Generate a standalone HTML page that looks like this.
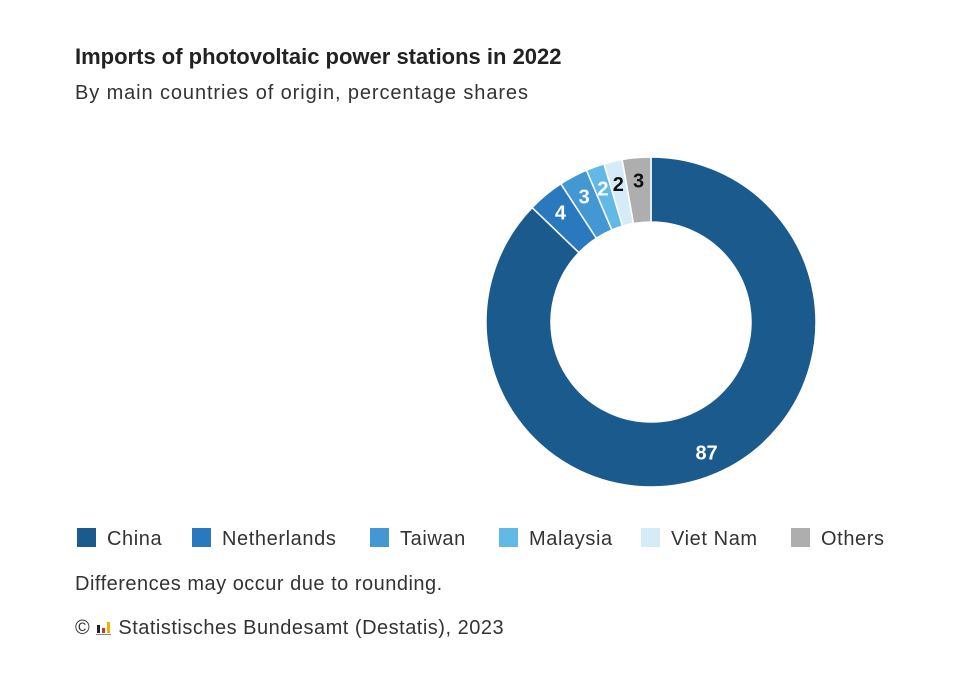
<!DOCTYPE html>
<html><head><meta charset="utf-8"><style>
body{margin:0;background:#fff;font-family:"Liberation Sans",sans-serif;color:#222;}
#wrap{position:relative;width:960px;height:679px;overflow:hidden;}
.t{position:absolute;white-space:nowrap;}
</style></head><body>
<div id="wrap">
<div class="t" style="left:75px;top:44px;font-size:22px;font-weight:bold;color:#222;">Imports of photovoltaic power stations in 2022</div>
<div class="t" style="left:75px;top:82px;font-size:20px;letter-spacing:0.9px;color:#333;">By main countries of origin, percentage shares</div>
<svg id="chart" width="960" height="679" style="position:absolute;left:0;top:0"></svg>
<div class="t" style="left:75px;top:573px;font-size:20px;letter-spacing:0.5px;color:#333;">Differences may occur due to rounding.</div>
<div class="t" style="left:75px;top:617px;font-size:20px;letter-spacing:0.5px;color:#333;">© <span style="display:inline-block;width:16px;height:14px;position:relative;vertical-align:-1px"><span style="position:absolute;left:1px;bottom:2px;width:3px;height:8px;background:#222"></span><span style="position:absolute;left:6px;bottom:2px;width:3px;height:5px;background:#c33"></span><span style="position:absolute;left:11px;bottom:2px;width:3px;height:11px;background:#e8b400"></span><span style="position:absolute;left:0;bottom:0;width:15px;height:1px;background:#888"></span></span> Statistisches Bundesamt (Destatis), 2023</div>
</div>
<script>
const categories=["China","Netherlands","Taiwan","Malaysia","Viet Nam","Others"];
const values=[87.2,3.6,2.8,1.8,1.8,2.8];
const labels=["87","4","3","2","2","3"];
const colors=["#1b5a8c","#2a78bd","#4398d3","#62b9e6","#d5ecf8","#aeaeae"];
const labelColors=["#fff","#fff","#fff","#fff","#111","#111"];
const NS="http://www.w3.org/2000/svg";
const svg=document.getElementById("chart");
const cx=651,cy=322,R=165,r=100,LR=142;
const total=values.reduce((a,b)=>a+b,0);
function pt(rad,a){return [cx+rad*Math.sin(a),cy-rad*Math.cos(a)];}
let acc=0;
values.forEach((v,i)=>{
 const a0=acc/total*2*Math.PI; acc+=v; const a1=acc/total*2*Math.PI;
 const large=(a1-a0)>Math.PI?1:0;
 const p1=pt(R,a0),p2=pt(R,a1),p3=pt(r,a1),p4=pt(r,a0);
 const path=document.createElementNS(NS,"path");
 path.setAttribute("d",`M${p1} A${R},${R} 0 ${large} 1 ${p2} L${p3} A${r},${r} 0 ${large} 0 ${p4} Z`);
 path.setAttribute("fill",colors[i]);path.setAttribute("stroke","#fff");path.setAttribute("stroke-width","1.5");
 
 
 svg.appendChild(path);
 const am=(a0+a1)/2,lp=pt(LR,am);
 const t=document.createElementNS(NS,"text");
 t.setAttribute("x",lp[0]);t.setAttribute("y",lp[1]+7);t.setAttribute("text-anchor","middle");
 t.setAttribute("font-size","20");t.setAttribute("font-weight","bold");t.setAttribute("fill",labelColors[i]);
 t.setAttribute("font-family","Liberation Sans, sans-serif");
 t.textContent=labels[i];
 
 
 svg.appendChild(t);
});
const legX=[77,192,370,499,641,791];
categories.forEach((c,i)=>{
 const g=document.createElementNS(NS,"g");
 
 
 const rc=document.createElementNS(NS,"rect");
 rc.setAttribute("x",legX[i]);rc.setAttribute("y",528);rc.setAttribute("width",19);rc.setAttribute("height",19);rc.setAttribute("fill",colors[i]);
 g.appendChild(rc);
 const t=document.createElementNS(NS,"text");
 t.setAttribute("x",legX[i]+30);t.setAttribute("y",545);t.setAttribute("font-size","20");t.setAttribute("letter-spacing","0.6");t.setAttribute("fill","#333");
 t.setAttribute("font-family","Liberation Sans, sans-serif");
 t.textContent=c;g.appendChild(t);
 svg.appendChild(g);
});
</script>
</body></html>
